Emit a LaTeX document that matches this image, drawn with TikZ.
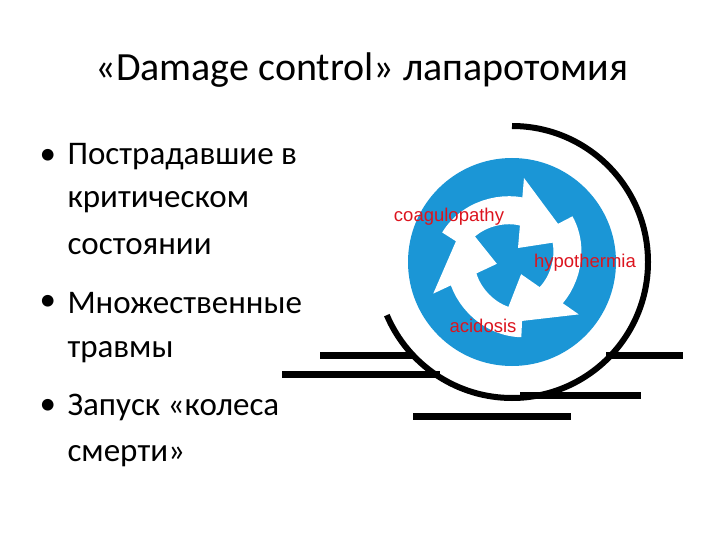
\documentclass[tikz,border=0pt]{standalone}
\usepackage{fontspec}
\setmainfont{Carlito}
\newfontfamily\arialf{Liberation Sans}
\definecolor{recblue}{RGB}{27,150,214}
\definecolor{labred}{RGB}{220,20,30}
\begin{document}
\begin{tikzpicture}[x=1pt,y=-1pt,
  bul/.style={anchor=west,font=\fontsize{33}{38}\selectfont,align=left},
  lab/.style={font=\arialf\fontsize{18.5}{20}\selectfont,text=labred,inner sep=0pt},
  bar/.style={line width=7pt,black}]
\useasboundingbox (0,0) rectangle (720,540);
\node[font=\fontsize{40}{46}\selectfont] (title) at (362,70) {«Damage control» лапаротомия};
\node[bul] (b1) at (36,157) {•};
\node[bul] (t1a) at (64,157) {Пострадавшие в};
\node[bul] (t1b) at (64,202) {критическом};
\node[bul] (t1c) at (64,247) {состоянии};
\node[bul] (b2) at (36,303) {•};
\node[bul] (t2a) at (64,303) {Множественные};
\node[bul] (t2b) at (64,352) {травмы};
\node[bul] (b3) at (36,407) {•};
\node[bul] (t3a) at (64,407) {Запуск «колеса};
\node[bul] (t3b) at (64,456) {смерти»};
% bars
\draw[bar] (320,355) -- (412,355);
\draw[bar] (606,355) -- (683,355);
\draw[bar] (282,374) -- (440,374);
\draw[bar] (520,395) -- (641,395);
\draw[bar] (413,416) -- (571,416);
% wheel
\coordinate (c) at (512,262);
\fill[recblue] (c) circle (104);
\draw[line width=6pt] ([shift={(-90:136)}]c) arc[start angle=-90,end angle=157,radius=136];
\foreach \r in {0,120,240}{
 \begin{scope}[shift={(c)},rotate=\r]
  \draw[white,line width=28pt] (-58,-22) .. controls (-40,-52) and (0,-58) .. (22,-46);
  \fill[white] (12,-84) -- (58,-22) -- (6,-14) -- cycle;
 \end{scope}}
\node[lab] (l1) at (449,217) {coagulopathy};
\node[lab] (l2) at (585,263) {hypothermia};
\node[lab] (l3) at (483,326) {acidosis};
\end{tikzpicture}
\end{document}
